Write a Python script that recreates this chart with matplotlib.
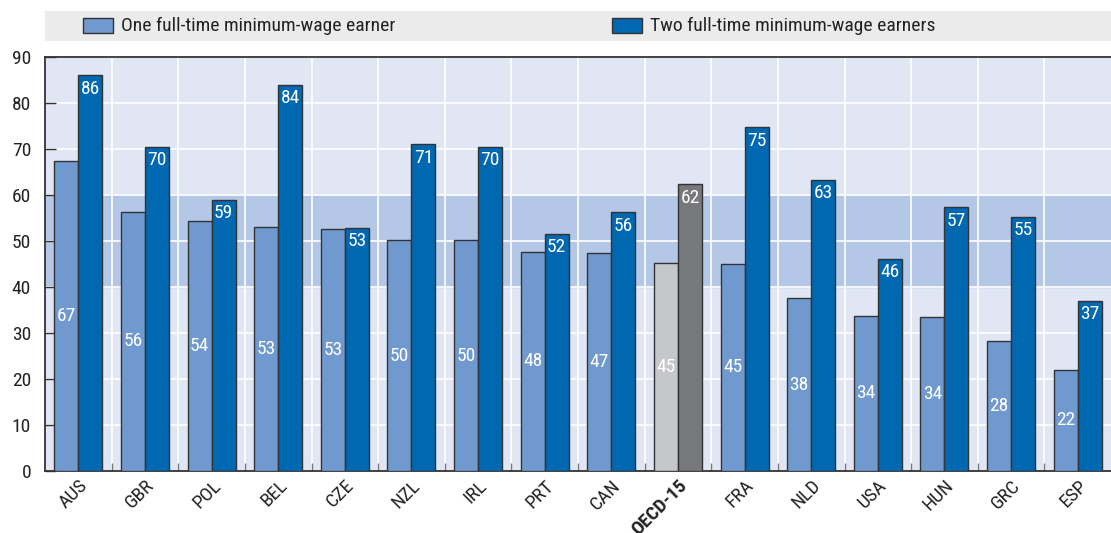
import matplotlib
matplotlib.use("Agg")
import matplotlib.pyplot as plt
from matplotlib.patches import Rectangle
from matplotlib import font_manager
import numpy as np

names = {f.name for f in font_manager.fontManager.ttflist}
fam = [n for n in ['Liberation Sans Narrow', 'DejaVu Sans Condensed', 'Roboto Condensed',
                   'Open Sans Condensed'] if n in names] + ['Liberation Sans', 'DejaVu Sans']
plt.rcParams['font.family'] = fam

countries = ["AUS", "GBR", "POL", "BEL", "CZE", "NZL", "IRL", "PRT", "CAN",
             "OECD-15", "FRA", "NLD", "USA", "HUN", "GRC", "ESP"]
one_earner = [67.3, 56.4, 54.4, 53.1, 52.6, 50.2, 50.2, 47.7, 47.3,
              45.3, 45.0, 37.6, 33.8, 33.5, 28.2, 22.0]
two_earners = [86.0, 70.4, 59.0, 84.0, 52.8, 71.0, 70.5, 51.5, 56.2,
               62.3, 74.7, 63.3, 46.1, 57.3, 55.3, 37.0]
legend_labels = ["One full-time minimum-wage earner", "Two full-time minimum-wage earners"]
yticks = [0, 10, 20, 30, 40, 50, 60, 70, 80, 90]

c_light = "#7099cf"
c_dark = "#0067b1"
c_grey_light = "#c6c7c9"
c_grey_dark = "#77787b"

W, H = 1111, 533
fig = plt.figure(figsize=(W / 100, H / 100), dpi=100)
ax = fig.add_axes([45 / W, (H - 471) / H, (1111 - 45) / W, (471 - 57) / H])

ax.set_facecolor("#e0e6f4")
ax.axhspan(40, 60, color="#b4c7e6", zorder=0)
ax.set_xlim(-0.5, len(countries) - 0.5)
ax.set_ylim(0, 90)

x = np.arange(len(countries))
bw = 0.36
oecd = countries.index("OECD-15")
col1 = [c_grey_light if i == oecd else c_light for i in x]
col2 = [c_grey_dark if i == oecd else c_dark for i in x]

for yv in yticks[1:]:
    ax.axhline(yv, color="white", lw=1.2, zorder=1)
for xv in np.arange(0.5, len(countries) - 0.5, 1):
    ax.axvline(xv, color="white", lw=1.2, zorder=1)

ax.bar(x - bw / 2, one_earner, bw, color=col1, edgecolor="#333333", lw=1, zorder=3)
ax.bar(x + bw / 2, two_earners, bw, color=col2, edgecolor="#333333", lw=1, zorder=3)

for i in x:
    ax.text(x[i] - bw / 2, one_earner[i] / 2, f"{round(one_earner[i])}", ha="center", va="center",
            color="white", fontsize=14, zorder=4)
    ax.text(x[i] + bw / 2, two_earners[i] - 0.9, f"{round(two_earners[i])}", ha="center", va="top",
            color="white", fontsize=14, zorder=4)

ax.set_yticks(yticks)
ax.tick_params(axis="y", direction="in", length=8, width=1, color="#333333", labelsize=14,
               pad=10, labelcolor="#222222")
ax.set_xticks(x)
ax.set_xticklabels(countries, rotation=45, ha="right", rotation_mode="anchor", fontsize=14,
                   color="#222222")
ax.tick_params(axis="x", length=0, pad=4)
for lbl in ax.get_xticklabels():
    if lbl.get_text() == "OECD-15":
        lbl.set_fontweight("bold")
ax.set_xticks(np.arange(0.5, len(countries) - 0.5, 1), minor=True)
ax.tick_params(axis="x", which="minor", direction="in", length=6, width=1, color="#777777")

for s in ["left", "bottom", "top"]:
    ax.spines[s].set_color("#333333")
    ax.spines[s].set_linewidth(1.3)
ax.spines["right"].set_visible(False)

# legend band
fig.patches.append(Rectangle((45 / W, (H - 41) / H), (1111 - 45) / W, 30 / H,
                             transform=fig.transFigure, facecolor="#ebebeb", edgecolor="none"))
for hx, tx, c, lab in [(83, 121, c_light, legend_labels[0]), (612, 650, c_dark, legend_labels[1])]:
    fig.patches.append(Rectangle((hx / W, (H - 33) / H), 30 / W, 15 / H, transform=fig.transFigure,
                                 facecolor=c, edgecolor="#333333", lw=1))
    fig.text(tx / W, (H - 26) / H, lab, ha="left", va="center", fontsize=14, color="#222222")

fig.savefig("out.png", dpi=100)
